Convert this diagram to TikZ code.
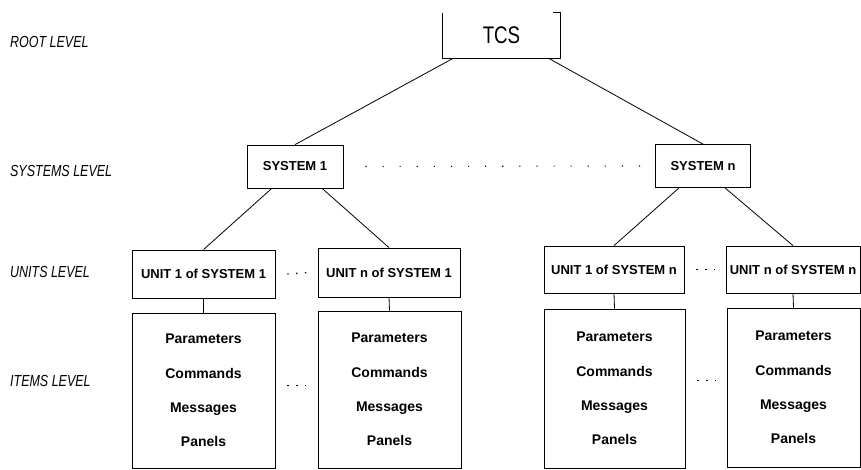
\documentclass[tikz,border=0pt]{standalone}
\usepackage{fontspec}
\setmainfont{Liberation Sans}
\usetikzlibrary{calc}
\tikzset{
  ln/.style={line width=0.8pt, black},
  lvl/.style={anchor=west, inner sep=0pt, xscale=0.78, font=\fontsize{16}{18}\selectfont\itshape},
  sysbox/.style={draw, ln, inner sep=0pt, font=\fontsize{13}{15}\selectfont\bfseries},
  unitbox/.style={draw, ln, inner sep=0pt, font=\fontsize{13}{15}\selectfont\bfseries},
  itembox/.style={draw, ln, inner sep=0pt, align=center, font=\fontsize{14}{34.3}\selectfont\bfseries},
  dotsline/.style={line width=1.3pt, dash pattern=on 1.3pt off 7.5pt},
  sparsedots/.style={line width=1.1pt, dash pattern=on 1.1pt off 16pt},
}
\begin{document}
\begin{tikzpicture}[x=1pt, y=-1pt]
\useasboundingbox (0,0) rectangle (861,470);
% level labels
\node[lvl] (lroot) at (10,42) {ROOT LEVEL};
\node[lvl] (lsys) at (10,171) {SYSTEMS LEVEL};
\node[lvl] (lunit) at (10,272) {UNITS LEVEL};
\node[lvl] (litem) at (10,381) {ITEMS LEVEL};
% root
\node[inner sep=0pt, minimum width=117pt, minimum height=45pt] (tcs) at (501.5,35.5)
  {\fontsize{24}{26}\selectfont\scalebox{0.78}[1]{TCS}};
\draw[ln] (tcs.north west) -- (tcs.south west) -- (tcs.south east) -- (tcs.north east) -- ++(-7,0);
% systems
\node[sysbox, minimum width=96pt, minimum height=43pt] (sys1) at (295,166.5) {SYSTEM 1};
\node[sysbox, minimum width=95pt, minimum height=43pt] (sysn) at (703,166) {SYSTEM n};
% units
\node[unitbox, minimum width=143pt, minimum height=48pt] (u11) at (203.5,274) {UNIT 1 of SYSTEM 1};
\node[unitbox, minimum width=142pt, minimum height=49pt] (u1n) at (389,272.5) {UNIT n of SYSTEM 1};
\node[unitbox, minimum width=140pt, minimum height=47pt] (un1) at (614,269.5) {UNIT 1 of SYSTEM n};
\node[unitbox, minimum width=134pt, minimum height=47pt] (unn) at (793,269.5) {UNIT n of SYSTEM n};
% items
\node[itembox, minimum width=143pt, minimum height=155pt] (i1) at (203.5,390.5) {Parameters\\Commands\\Messages\\Panels};
\node[itembox, minimum width=143pt, minimum height=157pt] (i2) at (389.5,389.5) {Parameters\\Commands\\Messages\\Panels};
\node[itembox, minimum width=141pt, minimum height=159pt] (i3) at (614.5,388.5) {Parameters\\Commands\\Messages\\Panels};
\node[itembox, minimum width=133pt, minimum height=159pt] (i4) at (793.5,387.5) {Parameters\\Commands\\Messages\\Panels};
% connectors
\draw[ln] ($(tcs.south west)!0.09!(tcs.south east)$) -- (sys1.north);
\draw[ln] ($(tcs.south west)!0.90!(tcs.south east)$) -- (sysn.north);
\draw[ln] ($(sys1.south west)!0.26!(sys1.south east)$) -- (u11.north);
\draw[ln] ($(sys1.south west)!0.78!(sys1.south east)$) -- (u1n.north);
\draw[ln] ($(sysn.south west)!0.25!(sysn.south east)$) -- (un1.north);
\draw[ln] ($(sysn.south west)!0.73!(sysn.south east)$) -- (unn.north);
\draw[ln] (u11.south) -- (i1.north);
\draw[ln] (u1n.south) -- (i2.north);
\draw[ln] (un1.south) -- (i3.north);
\draw[ln] (unn.south) -- (i4.north);
% ellipsis dots
\draw[sparsedots] ([xshift=22pt]sys1.east) -- ([xshift=-14pt]sysn.west);
\draw[dotsline] ([xshift=12pt]u11.east) -- ([xshift=-8pt]u1n.west);
\draw[dotsline] ([xshift=12pt]un1.east) -- ([xshift=-8pt]unn.west);
\draw[dotsline] ($([xshift=12pt]i1.east)+(0,-5)$) -- ($([xshift=-8pt]i2.west)+(0,-4)$);
\draw[dotsline] ($([xshift=12pt]i3.east)+(0,-8)$) -- ($([xshift=-8pt]i4.west)+(0,-7)$);
\end{tikzpicture}
\end{document}
